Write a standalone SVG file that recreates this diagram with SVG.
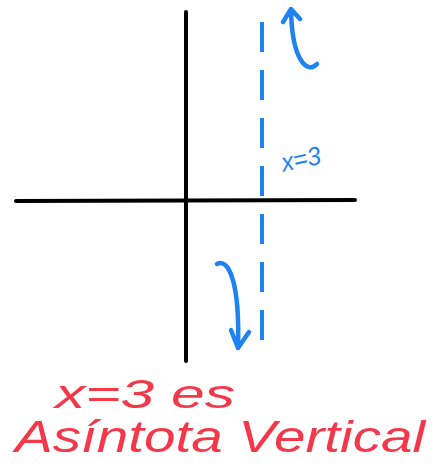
<svg xmlns="http://www.w3.org/2000/svg" width="439" height="466" viewBox="0 0 439 466">
<style>
.axis{stroke:#000;stroke-width:4;stroke-linecap:round;fill:none}
.blue{stroke:#1e82f0;stroke-width:4.5;stroke-linecap:round;stroke-linejoin:round;fill:none}
.dash{stroke:#1e82f0;stroke-width:4;fill:none;stroke-dasharray:30 18}
.red{fill:#f5374a;font-family:"Liberation Sans",sans-serif;font-style:italic}
.bt{fill:#1e82f0;font-family:"Liberation Sans",sans-serif;font-style:italic}
</style>
<rect width="439" height="466" fill="#fff"/>
<g id="axes">
<line class="axis" x1="186" y1="12" x2="186" y2="361"/>
<line class="axis" x1="16" y1="201" x2="355" y2="200"/>
</g>
<g id="asymptote">
<line class="dash" x1="262" y1="22" x2="262" y2="354"/>
</g>
<g id="connectors">
<path class="blue" d="M317 64 C308 74 292 62 291 10 M283 22 L291 9 L300 19"/>
<path class="blue" d="M217 264 C228 258 240 280 238 348 M231 330 L238 348 L249 332"/>
</g>
<g id="label-x3">
<text class="bt" x="280" y="168" font-size="26" textLength="40" lengthAdjust="spacingAndGlyphs" transform="rotate(-12 300 155)">x=3</text>
</g>
<g id="red-text">
<text class="red" x="55" y="408" font-size="40" textLength="180" lengthAdjust="spacingAndGlyphs">x=3 es</text>
<text class="red" x="15" y="452" font-size="44" textLength="410" lengthAdjust="spacingAndGlyphs">Asíntota Vertical</text>
</g>
</svg>
